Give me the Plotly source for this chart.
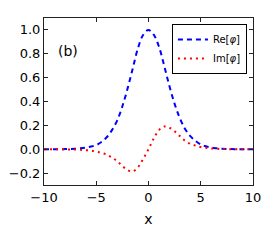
import plotly.graph_objects as go

x_vals = [-10, -9.5, -9, -8.5, -8, -7.5, -7, -6.5, -6, -5.5, -5, -4.5, -4, -3.5, -3, -2.5, -2, -1.5, -1, -0.5,
          0, 0.5, 1, 1.5, 2, 2.5, 3, 3.5, 4, 4.5, 5, 5.5, 6, 6.5, 7, 7.5, 8, 8.5, 9, 9.5, 10]
re_phi = [0, 0, 0, 0, 0.001, 0.002, 0.004, 0.008, 0.014, 0.022, 0.035, 0.06, 0.10, 0.16, 0.24, 0.36, 0.51, 0.68, 0.85, 0.96,
          1.0, 0.96, 0.86, 0.70, 0.53, 0.38, 0.26, 0.17, 0.11, 0.07, 0.04, 0.025, 0.014, 0.008, 0.004, 0.002, 0.001, 0, 0, 0, 0]
im_phi = [0, 0, 0, 0, -0.001, -0.002, -0.003, -0.005, -0.008, -0.012, -0.02, -0.03, -0.045, -0.07, -0.10, -0.14, -0.175, -0.185, -0.15, -0.08,
          0.0, 0.09, 0.16, 0.19, 0.18, 0.15, 0.11, 0.07, 0.045, 0.03, 0.018, 0.012, 0.007, 0.004, 0.002, 0.001, 0, 0, 0, 0, 0]

x_ticks = [-10, -5, 0, 5, 10]
y_ticks = [-0.2, 0.0, 0.2, 0.4, 0.6, 0.8, 1.0]

fig = go.Figure()
fig.add_trace(go.Scatter(x=x_vals, y=re_phi, mode="lines", name="Re[<i>φ</i>]",
                         line=dict(color="#0000ff", width=2, dash="5px,4px", shape="spline")))
fig.add_trace(go.Scatter(x=x_vals, y=im_phi, mode="lines", name="Im[<i>φ</i>]",
                         line=dict(color="#ff0000", width=2, dash="2px,4px", shape="spline")))

axis_common = dict(showgrid=False, zeroline=False, showline=True, linecolor="#222", linewidth=1,
                   mirror="ticks", ticks="inside", ticklen=4, tickcolor="#222", automargin=False,
                   tickfont=dict(family="DejaVu Sans", size=13, color="black"))

fig.update_layout(
    width=273, height=245,
    margin=dict(l=36, r=28, t=10, b=68),
    paper_bgcolor="white", plot_bgcolor="white",
    xaxis=dict(range=[-10, 10], tickvals=x_ticks, ticktext=["−10", "−5", "0", "5", "10"],
               title=dict(text="x", font=dict(family="DejaVu Sans", size=14, color="black"), standoff=10),
               **axis_common),
    yaxis=dict(range=[-0.3, 1.1], tickvals=y_ticks, ticktext=["−0.2", "0.0", "0.2", "0.4", "0.6", "0.8", "1.0"],
               **axis_common),
    legend=dict(x=0.971, y=0.964, xanchor="right", yanchor="top", bordercolor="black", borderwidth=1,
                bgcolor="white", font=dict(family="DejaVu Sans", size=10, color="black"),
                itemwidth=30, tracegroupgap=0),
    showlegend=True,
    annotations=[dict(text="(b)", x=-7.7, y=0.82, xref="x", yref="y", showarrow=False,
                      font=dict(family="DejaVu Sans", size=14, color="black"))],
)

fig.write_html("out.html")
